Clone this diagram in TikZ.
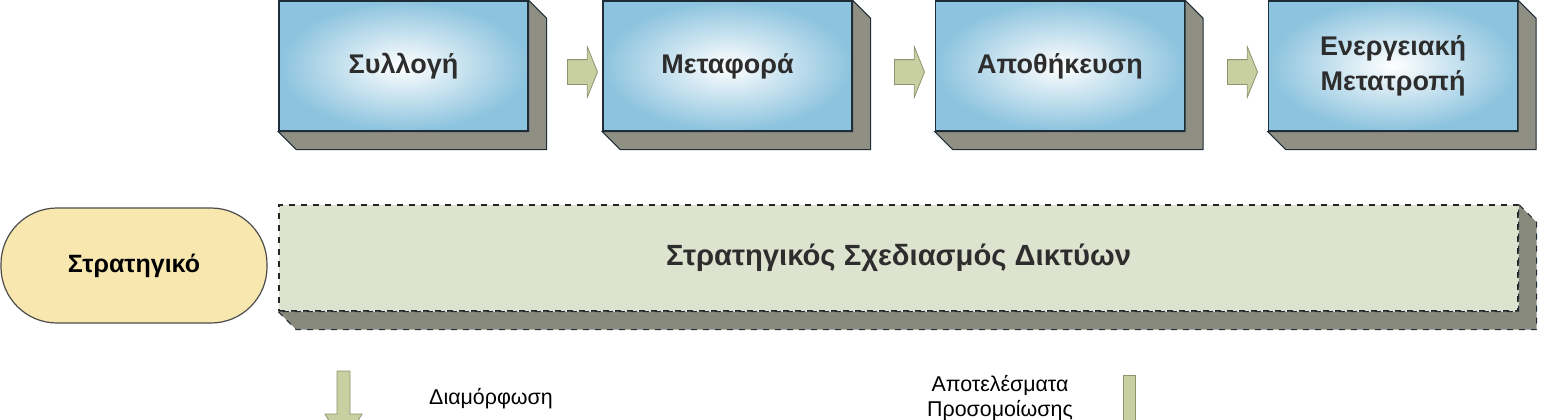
\documentclass[tikz,border=0pt]{standalone}
\usepackage{fontspec}
\setmainfont{Liberation Sans}
\usetikzlibrary{positioning, shapes.arrows}
\usepackage{xcolor}
\definecolor{facecolor}{RGB}{140,195,222}
\definecolor{sidecolor}{RGB}{143,143,131}
\definecolor{edgecolor}{RGB}{30,45,55}
\definecolor{flowcolor}{RGB}{200,207,160}
\definecolor{flowedge}{RGB}{140,148,110}
\definecolor{plancolor}{RGB}{221,227,206}
\definecolor{plandepth}{RGB}{135,138,122}
\definecolor{levelcolor}{RGB}{248,232,176}
\definecolor{labelcolor}{RGB}{45,45,45}

\begin{document}
\begin{tikzpicture}[x=0.5pt, y=-0.5pt]
  \tikzset{
    stage/.style={
      draw=edgecolor,
      line width=0.7pt,
      minimum width=124.5pt,
      minimum height=65pt,
      inner color=white,
      outer color=facecolor,
      text=labelcolor,
      align=center,
      font=\bfseries\fontsize{13.5}{17.5}\selectfont
    },
    depth/.style={
      draw=edgecolor,
      line width=0.5pt,
      fill=sidecolor
    },
    flow/.style={
      single arrow,
      draw=flowedge,
      fill=flowcolor,
      inner sep=6pt,
      minimum height=15pt,
      single arrow head extend=6.5pt,
      single arrow tip angle=136
    },
    plan/.style={
      draw=black!85,
      dashed,
      line width=0.7pt,
      fill=plancolor,
      minimum width=619.5pt,
      minimum height=53pt,
      text=labelcolor,
      font=\bfseries\fontsize{14.6}{17}\selectfont
    },
    level/.style={
      draw=black!70,
      line width=0.6pt,
      fill=levelcolor,
      rounded corners=28pt,
      minimum width=133pt,
      minimum height=57.5pt,
      font=\bfseries\fontsize{12.5}{15}\selectfont
    },
    note/.style={
      align=center,
      font=\fontsize{10.7}{12.2}\selectfont
    }
  }

  \useasboundingbox (0,0) rectangle (1546,419);
  \clip (0,0) rectangle (1546,419);

  % the four stages
  \node[stage] at (403.5, 66) (collect) {Συλλογή};
  \node[stage] at (727.5, 66) (transport) {Μεταφορά};
  \node[stage] at (1060, 66) (store) {Αποθήκευση};
  \node[stage] at (1393, 66) (convert) {Ενεργειακή\\Μετατροπή};

  % side and bottom faces
  \foreach \n in {collect, transport, store, convert} {
    \filldraw[depth] (\n.south west) -- ++(18,18) -| ([shift={(18,18)}]\n.north east)
      -- (\n.north east) -- (\n.south east) -- cycle;
  }

  % arrows between the stages
  \node[flow] at (580, 72) (flow1) {};
  \node[flow] at (907, 72) (flow2) {};
  \node[flow] at (1240, 72) (flow3) {};

  % strategic level
  \node[level] at (134, 265.5) (levelname) {Στρατηγικό};
  \node[plan] at (898.5, 258) (planning) {Στρατηγικός Σχεδιασμός Δικτύων};
  \filldraw[depth, dashed, fill=plandepth] (planning.south west) -- ++(18,18)
    -| ([shift={(18,18)}]planning.north east) -- (planning.north east)
    -- (planning.south east) -- cycle;

  % links to the level below
  \filldraw[draw=flowedge, fill=flowcolor] (337,371) -- (350,371) -- (350,414)
    -- (362,414) -- (343.5,445) -- (325,414) -- (337,414) -- cycle;
  \filldraw[draw=flowedge, fill=flowcolor] (1123,375) rectangle (1135,430);
  \node[note] at (491, 399) (shaping) {Διαμόρφωση};
  \node[note] at (1000, 398) (results) {Αποτελέσματα\\Προσομοίωσης};

\end{tikzpicture}
\end{document}
